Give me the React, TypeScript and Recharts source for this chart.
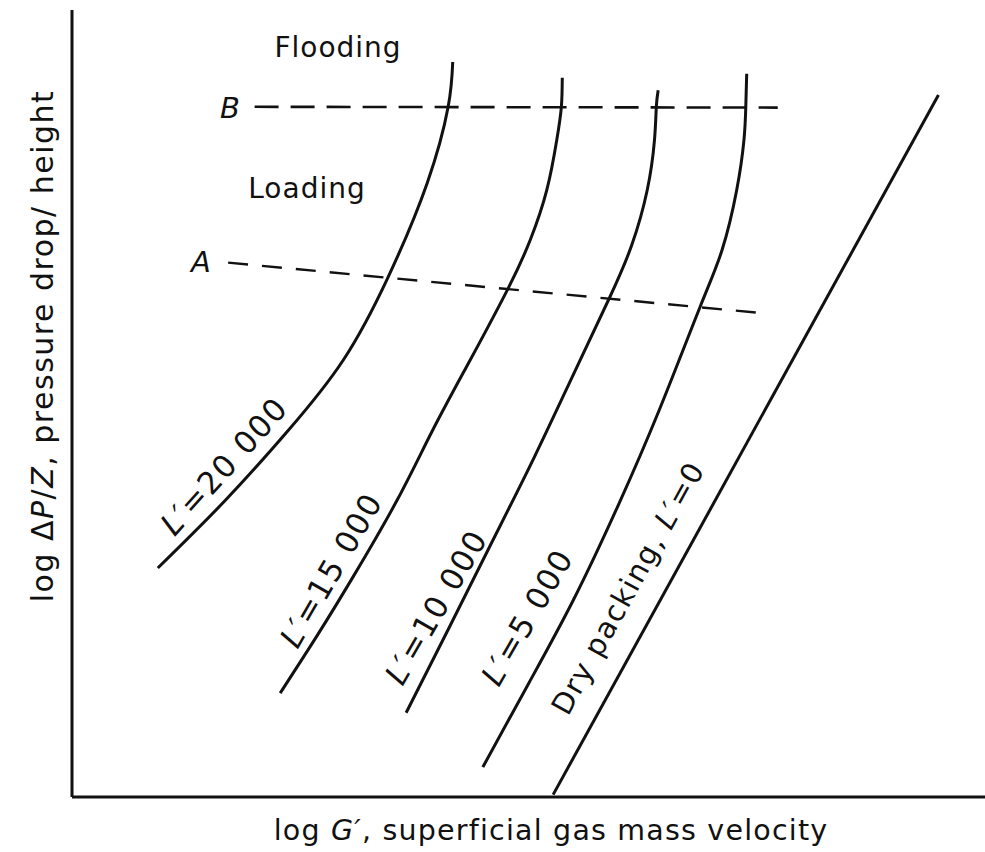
import React from "react";
import { LineChart, Line, XAxis, YAxis } from "recharts";

// axes are qualitative (log scales, no ticks): 0-100 units each way
const l20000 = [
  { x: 9.4, y: 29.1 }, { x: 16.8, y: 37.7 }, { x: 23.7, y: 46.6 }, { x: 29.7, y: 55.5 },
  { x: 34.6, y: 66.0 }, { x: 38.9, y: 78.0 }, { x: 41.2, y: 87.7 }, { x: 41.7, y: 93.4 },
];
const l15000 = [
  { x: 22.8, y: 13.2 }, { x: 26.9, y: 20.6 }, { x: 30.8, y: 28.0 }, { x: 35.6, y: 37.7 },
  { x: 39.5, y: 46.6 }, { x: 43.6, y: 55.5 }, { x: 47.8, y: 64.7 }, { x: 50.2, y: 70.8 },
  { x: 52.0, y: 77.1 }, { x: 53.1, y: 83.5 }, { x: 53.6, y: 87.7 }, { x: 53.7, y: 91.4 },
];
const l10000 = [
  { x: 36.6, y: 10.7 }, { x: 41.3, y: 21.5 }, { x: 46.0, y: 32.4 }, { x: 50.6, y: 43.1 },
  { x: 55.0, y: 53.9 }, { x: 58.9, y: 63.5 }, { x: 61.3, y: 70.1 }, { x: 63.0, y: 77.1 },
  { x: 63.8, y: 83.5 }, { x: 64.0, y: 87.7 }, { x: 64.2, y: 89.8 },
];
const l5000 = [
  { x: 45.0, y: 3.8 }, { x: 50.0, y: 14.4 }, { x: 54.9, y: 25.0 }, { x: 59.8, y: 37.0 },
  { x: 64.4, y: 49.4 }, { x: 68.8, y: 62.3 }, { x: 71.2, y: 69.5 }, { x: 72.8, y: 77.1 },
  { x: 73.6, y: 83.5 }, { x: 73.8, y: 87.7 }, { x: 73.9, y: 91.9 },
];
const dryPacking = [{ x: 52.7, y: 0.3 }, { x: 94.9, y: 89.2 }];
const floodLine = [{ x: 20.0, y: 87.7 }, { x: 77.3, y: 87.6 }];
const loadLine = [{ x: 17.1, y: 67.9 }, { x: 75.4, y: 61.5 }];

const curves = [l20000, l15000, l10000, l5000];

const font = "'DejaVu Sans', sans-serif";

export default function App() {
  return (
    <div style={{ position: "absolute", left: 0, top: 0, width: 985, height: 852, background: "#fff" }}>
      <LineChart width={985} height={852} margin={{ top: 10, right: 0, bottom: 45, left: 62 }}>
        <XAxis type="number" dataKey="x" domain={[0, 100]} allowDataOverflow tick={false} tickLine={false}
          height={10} axisLine={{ stroke: "#111", strokeWidth: 3 }} />
        <YAxis type="number" dataKey="y" domain={[0, 100]} allowDataOverflow tick={false} tickLine={false}
          width={10} axisLine={{ stroke: "#111", strokeWidth: 3 }} />
        {curves.map((c, i) => (
          <Line key={i} data={c} dataKey="y" type="natural" stroke="#111" strokeWidth={3}
            dot={false} isAnimationActive={false} />
        ))}
        <Line data={dryPacking} dataKey="y" type="linear" stroke="#111" strokeWidth={3} dot={false} isAnimationActive={false} />
        <Line data={floodLine} dataKey="y" type="linear" stroke="#111" strokeWidth={2.6} strokeDasharray="24 12"
          dot={false} isAnimationActive={false} />
        <Line data={loadLine} dataKey="y" type="linear" stroke="#111" strokeWidth={2.4} strokeDasharray="20 14"
          dot={false} isAnimationActive={false} />
      </LineChart>

      {/* annotations */}
      <svg width={985} height={852} style={{ position: "absolute", left: 0, top: 0, pointerEvents: "none" }}
        fontFamily={font} fill="#111">
        <text x={338} y={47} fontSize={28} letterSpacing={1} textAnchor="middle" dominantBaseline="central">Flooding</text>
        <text x={307} y={188} fontSize={28} letterSpacing={1} textAnchor="middle" dominantBaseline="central">Loading</text>
        <text x={230} y={108} fontSize={29} fontStyle="italic" textAnchor="middle" dominantBaseline="central">B</text>
        <text x={201} y={262} fontSize={29} fontStyle="italic" textAnchor="middle" dominantBaseline="central">A</text>

        <text x={551} y={830} fontSize={28.5} letterSpacing={1.2} textAnchor="middle" dominantBaseline="central">
          log <tspan fontStyle="italic">G′</tspan>, superficial gas mass velocity
        </text>
        <text transform="translate(42,346) rotate(-90)" fontSize={30} letterSpacing={1.5} textAnchor="middle" dominantBaseline="central">
          log Δ<tspan fontStyle="italic">P</tspan>/<tspan fontStyle="italic">Z</tspan>, pressure drop/ height
        </text>

        <text transform="translate(224,466) rotate(-48)" fontSize={31} letterSpacing={1.5} textAnchor="middle" dominantBaseline="central">
          <tspan fontStyle="italic">L′</tspan>=20 000
        </text>
        <text transform="translate(331,570) rotate(-60)" fontSize={31} letterSpacing={1.5} textAnchor="middle" dominantBaseline="central">
          <tspan fontStyle="italic">L′</tspan>=15 000
        </text>
        <text transform="translate(436,607) rotate(-60)" fontSize={31} letterSpacing={1.5} textAnchor="middle" dominantBaseline="central">
          <tspan fontStyle="italic">L′</tspan>=10 000
        </text>
        <text transform="translate(527,617) rotate(-60)" fontSize={31} letterSpacing={1.5} textAnchor="middle" dominantBaseline="central">
          <tspan fontStyle="italic">L′</tspan>=5 000
        </text>
        <text transform="translate(628,588) rotate(-61)" fontSize={29} letterSpacing={1.5} textAnchor="middle" dominantBaseline="central">
          Dry packing, <tspan fontStyle="italic">L′</tspan>=0
        </text>
      </svg>
    </div>
  );
}
